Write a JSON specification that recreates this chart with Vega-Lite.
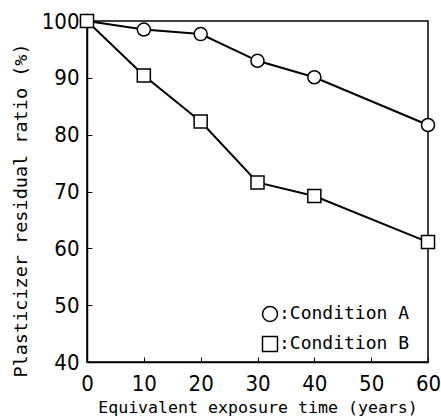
{
  "$schema": "https://vega.github.io/schema/vega-lite/v6.json",
  "width": 341,
  "height": 341,
  "autosize": {"type": "none"},
  "padding": {"left": 87, "top": 21, "right": 13, "bottom": 55},
  "background": "white",
  "config": {
    "view": {"stroke": "black", "strokeWidth": 1.5},
    "axis": {
      "grid": false,
      "domainColor": "black",
      "domainWidth": 1.5,
      "tickColor": "black",
      "tickWidth": 1,
      "tickSize": -5,
      "labelColor": "black",
      "labelFont": "DejaVu Sans Condensed, Liberation Sans Narrow, DejaVu Sans",
      "labelFontSize": 22,
      "titleColor": "black",
      "titleFont": "DejaVu Sans Mono",
      "titleFontWeight": "normal"
    }
  },
  "data": {
    "values": [
      {"t": 0, "r": 100, "cond": "Condition A"},
      {"t": 10, "r": 98.5, "cond": "Condition A"},
      {"t": 20, "r": 97.7, "cond": "Condition A"},
      {"t": 30, "r": 93.0, "cond": "Condition A"},
      {"t": 40, "r": 90.1, "cond": "Condition A"},
      {"t": 60, "r": 81.7, "cond": "Condition A"},
      {"t": 0, "r": 100, "cond": "Condition B"},
      {"t": 10, "r": 90.4, "cond": "Condition B"},
      {"t": 20, "r": 82.3, "cond": "Condition B"},
      {"t": 30, "r": 71.6, "cond": "Condition B"},
      {"t": 40, "r": 69.2, "cond": "Condition B"},
      {"t": 60, "r": 61.1, "cond": "Condition B"}
    ]
  },
  "encoding": {
    "x": {
      "field": "t",
      "type": "quantitative",
      "scale": {"domain": [0, 60], "nice": false, "zero": false},
      "axis": {
        "values": [0, 10, 20, 30, 40, 50, 60],
        "title": "Equivalent exposure time (years)",
        "titleFontSize": 16.6,
        "titleBaseline": "alphabetic",
        "titleY": 50,
        "labelPadding": 16,
        "labelFlush": false
      }
    },
    "y": {
      "field": "r",
      "type": "quantitative",
      "scale": {"domain": [40, 100], "nice": false, "zero": false},
      "axis": {
        "values": [40, 50, 60, 70, 80, 90, 100],
        "title": "Plasticizer residual ratio (%)",
        "titleFontSize": 18.5,
        "titleAngle": -90,
        "titleBaseline": "middle",
        "titleAlign": "center",
        "titleX": -67,
        "titleY": 189,
        "labelPadding": 13,
        "labelFlush": false
      }
    }
  },
  "layer": [
    {
      "mark": {"type": "line", "color": "black", "strokeWidth": 2},
      "encoding": {"detail": {"field": "cond"}}
    },
    {
      "mark": {"type": "point", "filled": true, "fill": "white", "stroke": "black", "strokeWidth": 1.5, "size": 170, "opacity": 1},
      "encoding": {
        "shape": {
          "field": "cond",
          "type": "nominal",
          "scale": {"domain": ["Condition A", "Condition B"], "range": ["circle", "square"]},
          "legend": {
            "title": null,
            "orient": "none",
            "legendX": 174,
            "legendY": 284,
            "padding": 0,
            "labelExpr": "':' + datum.label",
            "labelFont": "DejaVu Sans Mono",
            "labelFontSize": 18,
            "labelColor": "black",
            "labelOffset": 0,
            "symbolSize": 225,
            "rowPadding": 8,
            "encode": {
              "symbols": {
                "update": {
                  "fill": {"value": "white"},
                  "stroke": {"value": "black"},
                  "strokeWidth": {"value": 1.5},
                  "opacity": {"value": 1},
                  "fillOpacity": {"value": 1},
                  "strokeOpacity": {"value": 1}
                }
              }
            }
          }
        }
      }
    }
  ]
}
